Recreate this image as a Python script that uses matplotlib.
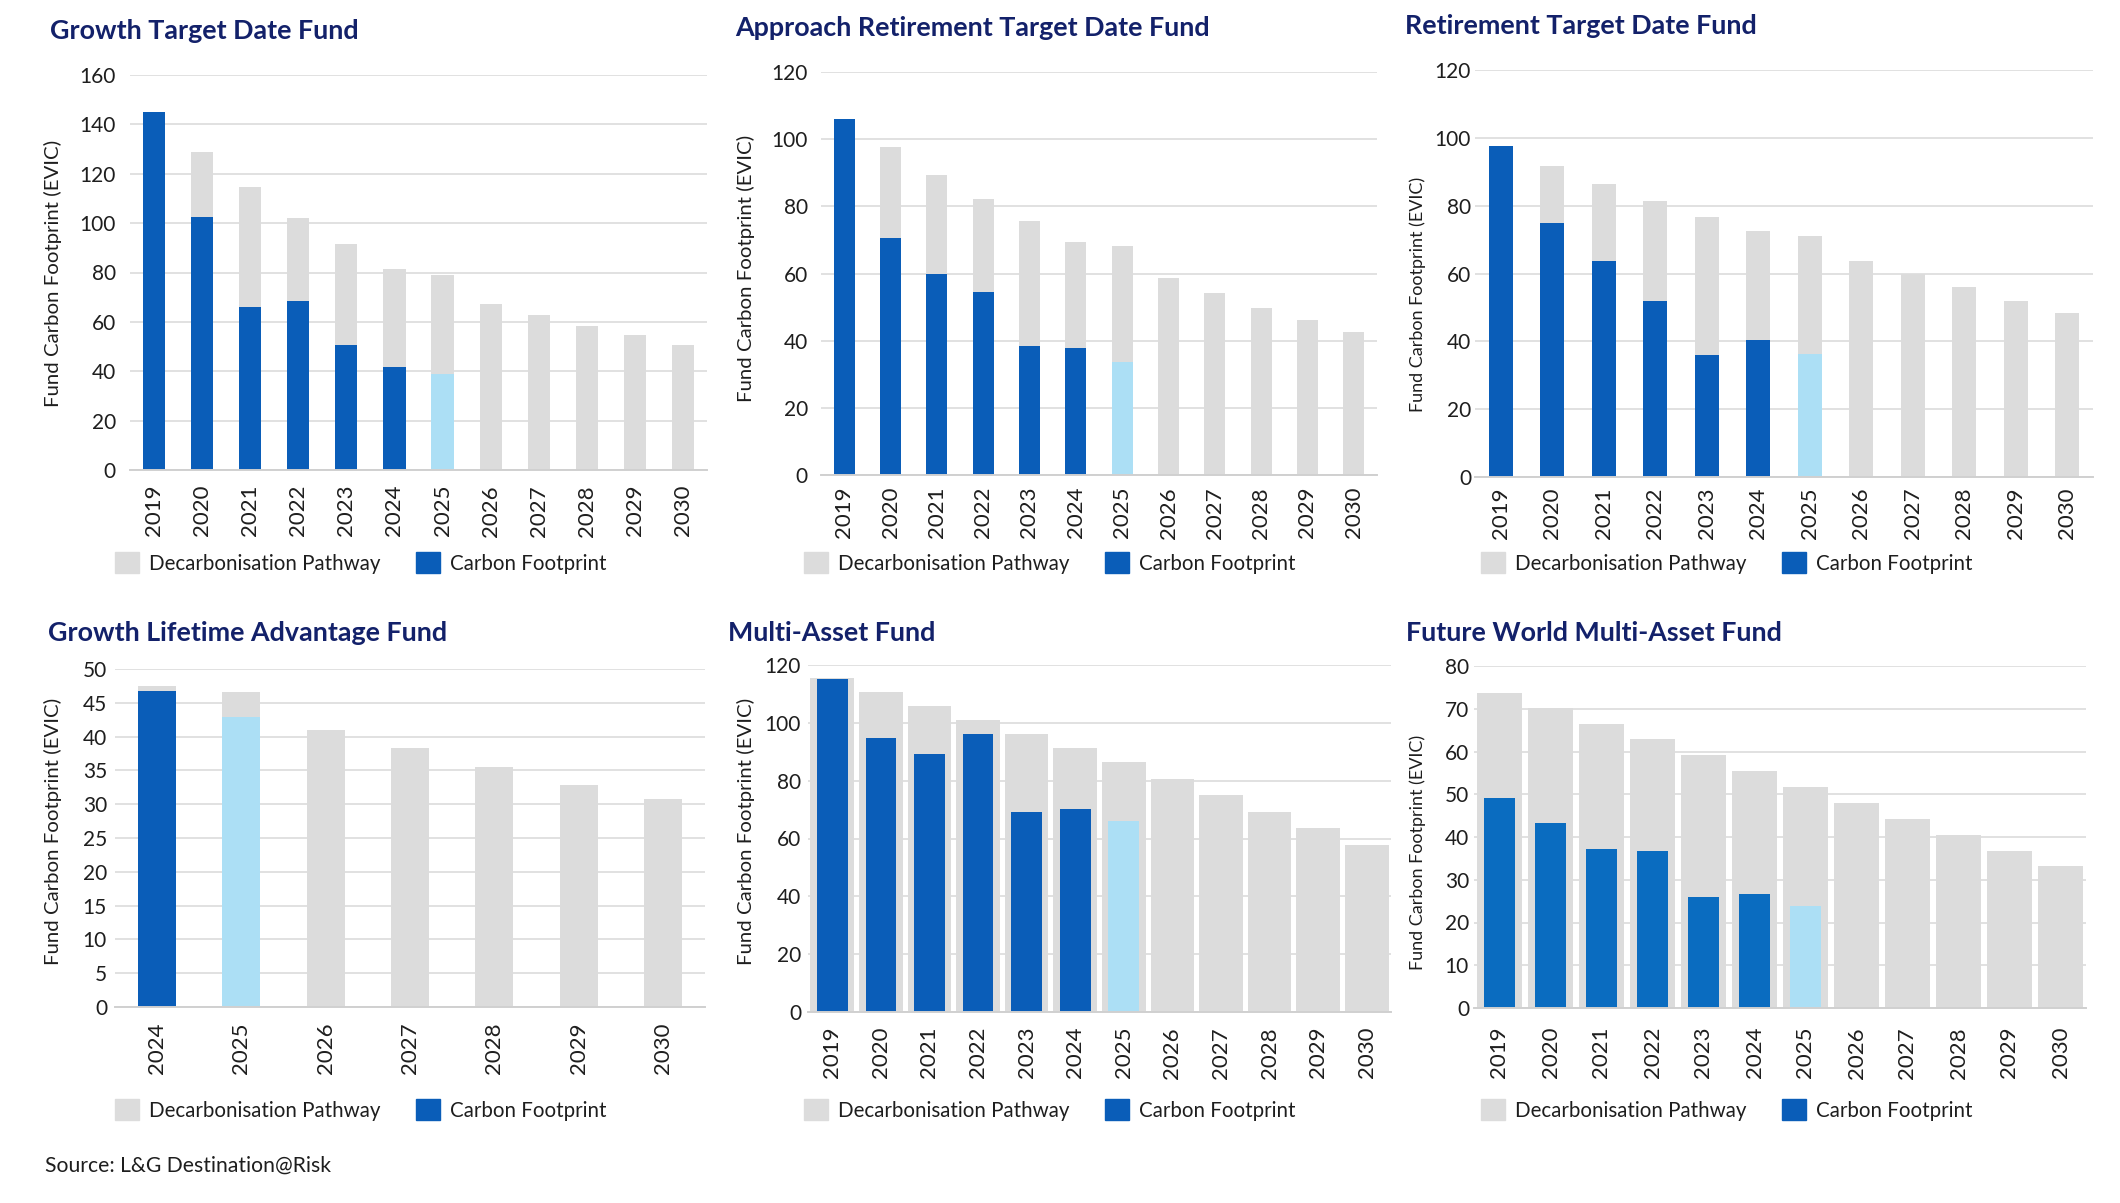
import numpy as np
import matplotlib
matplotlib.use('Agg')
import matplotlib.pyplot as plt
from matplotlib.patches import Patch

plt.rcParams['font.family'] = ['Lato', 'DejaVu Sans']

# ---- data ----
years_full = ['2019', '2020', '2021', '2022', '2023', '2024', '2025',
              '2026', '2027', '2028', '2029', '2030']
years_short = ['2024', '2025', '2026', '2027', '2028', '2029', '2030']

growth_tdf_pathway = [145, 129, 114.8, 102.2, 91.4, 81.3, 78.8, 67.4, 62.9, 58.3, 54.5, 50.8]
growth_tdf_footprint = [145, 102.6, 66, 68.4, 50.8, 41.6, 39]

approach_tdf_pathway = [106, 97.6, 89.4, 82.2, 75.5, 69.3, 68.1, 58.6, 54.3, 49.8, 46.1, 42.7]
approach_tdf_footprint = [106, 70.7, 59.9, 54.6, 38.4, 37.8, 33.6]

retire_tdf_pathway = [97.7, 91.8, 86.4, 81.5, 76.8, 72.5, 71.0, 63.6, 59.8, 55.9, 52.0, 48.5]
retire_tdf_footprint = [97.7, 75.0, 63.7, 51.9, 36.1, 40.5, 36.3]

lifetime_pathway = [47.5, 46.6, 41.0, 38.3, 35.5, 32.9, 30.7]
lifetime_footprint = [46.7, 42.9]

multi_pathway = [115.5, 110.5, 105.9, 100.9, 96.3, 91.2, 86.4, 80.7, 75.1, 69.2, 63.6, 57.9]
multi_footprint = [115.2, 94.8, 89.3, 96.3, 69.1, 70.3, 66.0]

fw_multi_pathway = [73.7, 70.2, 66.4, 62.9, 59.1, 55.4, 51.6, 47.9, 44.2, 40.5, 36.8, 33.2]
fw_multi_footprint = [49.2, 43.2, 37.1, 36.7, 25.9, 26.7, 23.8]

estimate_year = '2025'

GREY = '#DCDCDC'
BLUE = '#0A5DB8'
BLUE2 = '#0A6CC0'
LIGHT = '#ACDFF5'
NAVY = '#13216A'
TXT = '#1E1E1E'
GRID = '#D9D9D9'

W, H = 2120, 1203
fig = plt.figure(figsize=(W / 100, H / 100), dpi=100)


def box(l, t, r, b):
    return [l / W, 1 - b / H, (r - l) / W, (b - t) / H]


# title, years, pathway, footprint, ymax, step, axes box, bar widths, blue,
# title pos, ylabel pos/size, ytick pad, xtick pad, legend pos
panels = [
    dict(title='Growth Target Date Fund', years=years_full,
         pw=growth_tdf_pathway, fp=growth_tdf_footprint, ymax=160, step=20,
         ax=(130, 75, 707, 470), wp=0.46, wf=0.46, blue=BLUE,
         tpos=(50, 39), ylab=(53, 273, 14.7), ypad=14, xpad=15, leg=(115, 563)),
    dict(title='Approach Retirement Target Date Fund', years=years_full,
         pw=approach_tdf_pathway, fp=approach_tdf_footprint, ymax=120, step=20,
         ax=(821, 72, 1377, 475), wp=0.46, wf=0.46, blue=BLUE,
         tpos=(735, 36), ylab=(746, 268, 14.7), ypad=13, xpad=12, leg=(804, 563)),
    dict(title='Retirement Target Date Fund', years=years_full,
         pw=retire_tdf_pathway, fp=retire_tdf_footprint, ymax=120, step=20,
         ax=(1475, 70, 2093, 477), wp=0.46, wf=0.46, blue=BLUE,
         tpos=(1405, 34), ylab=(1418, 294, 13), ypad=4, xpad=10, leg=(1481, 563)),
    dict(title='Growth Lifetime Advantage Fund', years=years_short,
         pw=lifetime_pathway, fp=lifetime_footprint, ymax=50, step=5,
         ax=(115, 669, 705, 1007), wp=0.45, wf=0.45, blue=BLUE,
         tpos=(48, 641), ylab=(53, 831, 14.7), ypad=8, xpad=15, leg=(115, 1110)),
    dict(title='Multi-Asset Fund', years=years_full,
         pw=multi_pathway, fp=multi_footprint, ymax=120, step=20,
         ax=(808, 665, 1391, 1012), wp=0.9, wf=0.63, blue=BLUE,
         tpos=(728, 641), ylab=(746, 831, 14.7), ypad=7, xpad=15, leg=(804, 1110)),
    dict(title='Future World Multi-Asset Fund', years=years_full,
         pw=fw_multi_pathway, fp=fw_multi_footprint, ymax=80, step=10,
         ax=(1474, 666, 2086, 1008), wp=0.9, wf=0.62, blue=BLUE2,
         tpos=(1406, 641), ylab=(1418, 852, 13), ypad=5, xpad=19, leg=(1481, 1110)),
]

for p in panels:
    ax = fig.add_axes(box(*p['ax']))
    n = len(p['years'])
    x = np.arange(n)
    ax.bar(x, p['pw'], width=p['wp'], color=GREY, zorder=2)
    fx = x[:len(p['fp'])]
    cols = [LIGHT if p['years'][i] == estimate_year else p['blue'] for i in fx]
    ax.bar(fx, p['fp'], width=p['wf'], color=cols, zorder=3)

    ax.set_xlim(-0.5, n - 0.5)
    ax.set_ylim(0, p['ymax'])
    ax.set_yticks(np.arange(0, p['ymax'] + 1, p['step']))
    ax.set_xticks(x, p['years'], rotation=90)
    ax.yaxis.grid(True, color=GRID, lw=1.1, zorder=0)
    ax.set_axisbelow(True)
    for s in ['top', 'right', 'left']:
        ax.spines[s].set_visible(False)
    ax.spines['bottom'].set_color('#D0D0D0')
    ax.spines['bottom'].set_linewidth(1.4)
    ax.spines['bottom'].set_zorder(4)
    ax.tick_params(axis='y', length=0, labelsize=15, colors=TXT, pad=p['ypad'] * 0.72)
    ax.tick_params(axis='x', length=0, labelsize=16, colors=TXT, pad=p['xpad'] * 0.72)

    tx, ty = p['tpos']
    fig.text(tx / W, 1 - ty / H, p['title'], fontsize=19.4, fontweight='bold',
             color=NAVY, ha='left', va='baseline')
    lx, ly, ls = p['ylab']
    fig.text(lx / W, 1 - ly / H, 'Fund Carbon Footprint (EVIC)', fontsize=ls,
             rotation=90, ha='center', va='center', color=TXT)

    handles = [Patch(color=GREY, label='Decarbonisation Pathway'),
               Patch(color=BLUE, label='Carbon Footprint')]
    gx, gy = p['leg']
    fig.legend(handles=handles, loc='center left', ncol=2, frameon=False,
               bbox_to_anchor=(gx / W, 1 - gy / H), borderaxespad=0, borderpad=0,
               fontsize=14.8, handlelength=1.15, handleheight=1.15,
               handletextpad=0.5, columnspacing=1.75, labelcolor=TXT)

fig.text(45 / W, 1 - 1166 / H, 'Source: L&G Destination@Risk', fontsize=15.2,
         color=TXT, ha='left', va='center')

fig.savefig('out.png', dpi=100, facecolor='white')
